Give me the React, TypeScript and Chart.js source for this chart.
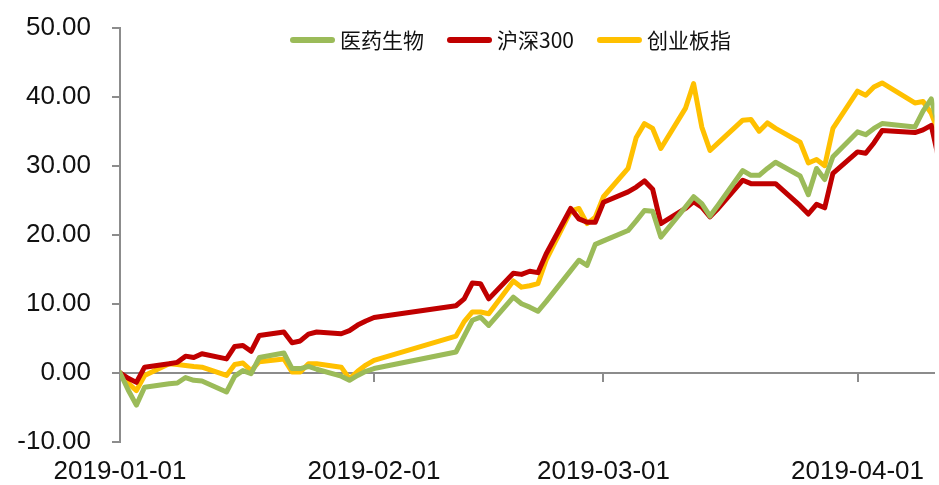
import React, { useEffect, useRef } from 'react';
import { Chart, registerables } from 'chart.js';

Chart.register(...registerables);

// ---- data ----
const dates = [
  '2019-01-01', '2019-01-02', '2019-01-03', '2019-01-04', '2019-01-07', '2019-01-08', '2019-01-09',
  '2019-01-10', '2019-01-11', '2019-01-14', '2019-01-15', '2019-01-16', '2019-01-17', '2019-01-18',
  '2019-01-21', '2019-01-22', '2019-01-23', '2019-01-24', '2019-01-25', '2019-01-28', '2019-01-29',
  '2019-01-30', '2019-01-31', '2019-02-01', '2019-02-11', '2019-02-12', '2019-02-13', '2019-02-14',
  '2019-02-15', '2019-02-18', '2019-02-19', '2019-02-20', '2019-02-21', '2019-02-22', '2019-02-25',
  '2019-02-26', '2019-02-27', '2019-02-28', '2019-03-01', '2019-03-04', '2019-03-05', '2019-03-06',
  '2019-03-07', '2019-03-08', '2019-03-11', '2019-03-12', '2019-03-13', '2019-03-14', '2019-03-15',
  '2019-03-18', '2019-03-19', '2019-03-20', '2019-03-21', '2019-03-22', '2019-03-25', '2019-03-26',
  '2019-03-27', '2019-03-28', '2019-03-29', '2019-04-01', '2019-04-02', '2019-04-03', '2019-04-04',
  '2019-04-08', '2019-04-09', '2019-04-10', '2019-04-11',
];

// 医药生物
const pharma = [
  0, -2.5, -4.7, -2.1, -1.6, -1.5, -0.7,
  -1.1, -1.2, -2.8, -0.5, 0.3, -0.15, 2.2,
  2.85, 0.6, 0.6, 0.9, 0.5, -0.5, -1.1,
  -0.4, 0.2, 0.6, 3.0, 5.3, 7.6, 8.05,
  6.85, 10.95, 10.0, 9.5, 8.9, 10.3, 14.8,
  16.3, 15.55, 18.6, 19.1, 20.6, 22.0, 23.5,
  23.4, 19.65, 24.0, 25.5, 24.5, 22.7, 24.3,
  29.3, 28.6, 28.6, 29.6, 30.5, 28.5, 25.8,
  29.6, 28.0, 31.3, 34.9, 34.5, 35.4, 36.1,
  35.6, 37.9, 39.7, 35.0,
];

// 沪深300
const hs300 = [
  0, -0.8, -1.4, 0.8, 1.3, 1.5, 2.4,
  2.2, 2.75, 2.0, 3.8, 3.95, 3.1, 5.4,
  5.9, 4.35, 4.6, 5.6, 5.9, 5.65, 6.1,
  6.9, 7.5, 8.0, 9.7, 10.7, 13.0, 12.9,
  10.7, 14.4, 14.25, 14.7, 14.5, 17.2, 23.8,
  22.3, 21.8, 21.8, 24.7, 26.2, 26.9, 27.8,
  26.6, 21.6, 23.8, 24.8, 24.0, 22.6, 23.8,
  27.9, 27.4, 27.4, 27.4, 27.4, 24.2, 23.0,
  24.4, 23.9, 28.9, 32.0, 31.8, 33.3, 35.1,
  34.8, 35.2, 35.85, 30.5,
];

// 创业板指
const chinext = [
  0, -1.5, -2.6, -0.4, 1.3, 1.2, 1.05,
  0.9, 0.8, -0.4, 1.2, 1.4, 0.3, 1.6,
  2.0, 0.1, 0.1, 1.3, 1.3, 0.8, -0.9,
  0.2, 1.1, 1.8, 5.3, 7.4, 8.8, 8.8,
  8.55, 13.3, 12.4, 12.6, 12.9, 16.3, 23.4,
  23.8, 21.6, 22.55, 25.5, 29.6, 34.1, 36.1,
  35.4, 32.5, 38.3, 41.9, 35.6, 32.2, 33.3,
  36.6, 36.7, 35.0, 36.2, 35.4, 33.4, 30.4,
  30.9, 30.0, 35.4, 40.8, 40.2, 41.4, 42.0,
  39.1, 39.3, 37.6, 34.5,
];

const seriesNames = ['医药生物', '沪深300', '创业板指'];
const seriesColors = ['#9BBB59', '#C00000', '#FFC000'];
const xTickLabels = ['2019-01-01', '2019-02-01', '2019-03-01', '2019-04-01'];
const xStart = '2019-01-01';
const xEndDays = 99.38;
const yMin = -10;
const yMax = 50;
const yStep = 10;

const DAY = 86400000;
function toUTC(s: string) {
  const [y, m, d] = s.split('-').map(Number);
  return Date.UTC(y, m - 1, d);
}
function dayNum(s: string) {
  return Math.round((toUTC(s) - toUTC(xStart)) / DAY);
}
function dayLabel(v: number) {
  const dt = new Date(toUTC(xStart) + Math.round(v) * DAY);
  const y = dt.getUTCFullYear();
  const m = String(dt.getUTCMonth() + 1).padStart(2, '0');
  const d = String(dt.getUTCDate()).padStart(2, '0');
  return `${y}-${m}-${d}`;
}

const AXIS_COLOR = '#8c8c8c';
const LABEL_FONT = 'Liberation Sans, Arial, sans-serif';

const legendPlugin = {
  id: 'refLegend',
  afterDraw(chart: any) {
    const ctx = chart.ctx as CanvasRenderingContext2D;
    const y = 40;
    let x = 290;
    ctx.save();
    chart.data.datasets.forEach((ds: any) => {
      ctx.strokeStyle = ds.borderColor;
      ctx.lineWidth = 6;
      ctx.lineCap = 'round';
      ctx.beginPath();
      ctx.moveTo(x + 3, y);
      ctx.lineTo(x + 42, y);
      ctx.stroke();
      ctx.font = '21px "Noto Sans CJK SC", sans-serif';
      ctx.fillStyle = '#111';
      ctx.textBaseline = 'middle';
      ctx.textAlign = 'left';
      const tx = x + 50;
      ctx.fillText(ds.label, tx, y);
      x = tx + ctx.measureText(ds.label).width + 23;
    });
    ctx.restore();
  },
};

export default function App() {
  const ref = useRef<HTMLCanvasElement | null>(null);

  useEffect(() => {
    if (!ref.current) return;
    const seriesValues = [pharma, hs300, chinext];
    const xTickDays = xTickLabels.map(dayNum);
    const chart = new Chart(ref.current, {
      type: 'line',
      data: {
        datasets: seriesNames.map((name, i) => ({
          label: name,
          data: dates.map((d, j) => ({ x: dayNum(d), y: seriesValues[i][j] })),
          borderColor: seriesColors[i],
          backgroundColor: seriesColors[i],
          borderWidth: 5,
          pointRadius: 0,
          pointHoverRadius: 0,
          tension: 0,
          borderJoinStyle: 'round' as const,
          borderCapStyle: 'round' as const,
          fill: false,
        })),
      },
      options: {
        animation: false,
        responsive: false,
        devicePixelRatio: 1,
        layout: { padding: { top: 27.7, left: 0, right: 0, bottom: 0 } },
        plugins: {
          legend: { display: false },
          tooltip: { enabled: false },
        },
        scales: {
          x: {
            type: 'linear',
            min: 0,
            max: xEndDays,
            afterBuildTicks: (s: any) => {
              s.ticks = xTickDays.map((v) => ({ value: v }));
            },
            afterFit: (s: any) => {
              s.height = 43.3;
            },
            ticks: {
              autoSkip: false,
              maxRotation: 0,
              padding: 15,
              color: '#111',
              font: { size: 26, family: LABEL_FONT },
              callback: (v: any) => dayLabel(Number(v)),
            },
            grid: { display: false, drawTicks: false },
            border: { display: false },
          },
          x2: {
            type: 'linear',
            axis: 'x',
            position: { y: 0 },
            min: 0,
            max: xEndDays,
            afterBuildTicks: (s: any) => {
              s.ticks = xTickDays.map((v) => ({ value: v }));
            },
            ticks: { display: false },
            grid: { drawOnChartArea: false, drawTicks: true, tickLength: 8, color: AXIS_COLOR, lineWidth: 2 },
            border: { display: true, color: AXIS_COLOR, width: 2 },
          },
          y: {
            type: 'linear',
            min: yMin,
            max: yMax,
            afterFit: (s: any) => {
              s.width = 120;
              s.paddingTop = 10;
              s.paddingBottom = 10;
            },
            ticks: {
              stepSize: yStep,
              padding: 21,
              color: '#111',
              font: { size: 26, family: LABEL_FONT },
              callback: (v: any) => Number(v).toFixed(2),
            },
            grid: { drawOnChartArea: false, drawTicks: true, tickLength: 8, color: AXIS_COLOR, lineWidth: 2 },
            border: { display: true, color: AXIS_COLOR, width: 2 },
          },
        },
      } as any,
      plugins: [legendPlugin],
    });
    return () => chart.destroy();
  }, []);

  return (
    <div style={{ position: 'fixed', left: 0, top: 0, width: 939, height: 485, background: '#fff' }}>
      <canvas ref={ref} width={939} height={485} style={{ display: 'block' }} />
    </div>
  );
}
